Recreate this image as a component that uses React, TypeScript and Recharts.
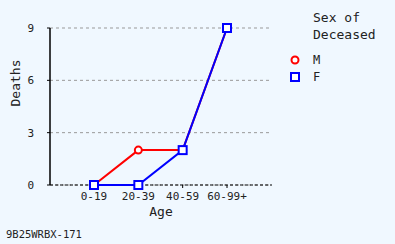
import {
  LineChart,
  Line,
  XAxis,
  YAxis,
  CartesianGrid,
  ReferenceLine,
} from "recharts";

const ageGroups = ["0-19", "20-39", "40-59", "60-99+"];
const maleDeaths = [0, 2, 2, 9];
const femaleDeaths = [0, 0, 2, 9];
const yTicks = [0, 3, 6, 9];

const data = ageGroups.map((age, i) => ({
  age,
  M: maleDeaths[i],
  F: femaleDeaths[i],
}));

const FONT = "'DejaVu Sans Mono', monospace";

const SquareDot = (props: any) => {
  const { cx, cy } = props;
  if (cx == null || cy == null) return null;
  return (
    <rect
      x={cx - 4}
      y={cy - 4}
      width={8}
      height={8}
      fill="#ffffff"
      stroke="#0000ff"
      strokeWidth={2}
    />
  );
};

// legend drawn outside the chart so it doesn't shrink the plot
const LegendBox = () => (
  <div
    style={{
      position: "absolute",
      left: 290,
      top: 9,
      fontFamily: FONT,
      color: "#222",
    }}
  >
    <div style={{ fontSize: 13, lineHeight: "17px", marginLeft: 23 }}>
      Sex of
      <br />
      Deceased
    </div>
    <svg width={90} height={40} style={{ display: "block", marginTop: 10 }}>
      <circle cx={5} cy={7} r={3.5} fill="#fff" stroke="#ff0000" strokeWidth={2} />
      <text x={23} y={11} fontSize={12} fill="#222">M</text>
      <rect x={1} y={20} width={8} height={8} fill="#fff" stroke="#0000ff" strokeWidth={2} />
      <text x={23} y={28} fontSize={12} fill="#222">F</text>
    </svg>
  </div>
);

export default function App() {
  return (
    <div style={{ width: 395, height: 244, background: "#f0f8ff", position: "relative" }}>
      <style>{"body{margin:0}"}</style>
      <LineChart
        width={395}
        height={244}
        data={data}
        margin={{ top: 28, right: 123, bottom: 29, left: 0 }}
        style={{ fontFamily: FONT }}
      >
        <CartesianGrid
          horizontal
          vertical={false}
          stroke="#999"
          strokeDasharray="3 3"
        />
        <ReferenceLine y={0} stroke="#000" strokeDasharray="3 2" />
        <XAxis
          dataKey="age"
          padding={{ left: 44, right: 45 }}
          axisLine={false}
          tickLine={{ stroke: "#000" }}
          tickSize={3}
          tickMargin={4}
          tick={{ fontSize: 11, fill: "#222" }}
          label={{ value: "Age", position: "insideBottom", offset: -1, fontSize: 13, fill: "#222" }}
        />
        <YAxis
          width={50}
          domain={[0, 9]}
          ticks={yTicks}
          axisLine={{ stroke: "#000", strokeWidth: 1.5 }}
          tickLine={{ stroke: "#000" }}
          tickSize={3}
          tickMargin={13}
          tick={{ fontSize: 11, fill: "#222" }}
          label={{ value: "Deaths", angle: -90, position: "insideLeft", offset: 15, fontSize: 13, fill: "#222" }}
        />
        <Line
          dataKey="M"
          stroke="#ff0000"
          strokeWidth={2}
          dot={{ r: 3.5, fill: "#fff", stroke: "#ff0000", strokeWidth: 2 }}
          isAnimationActive={false}
        />
        <Line
          dataKey="F"
          stroke="#0000ff"
          strokeWidth={2}
          dot={<SquareDot />}
          isAnimationActive={false}
        />
      </LineChart>
      <LegendBox />
      <div
        style={{
          position: "absolute",
          left: 6,
          top: 228,
          fontFamily: FONT,
          fontSize: 10.5,
          color: "#222",
        }}
      >
        9B25WRBX-171
      </div>
    </div>
  );
}
